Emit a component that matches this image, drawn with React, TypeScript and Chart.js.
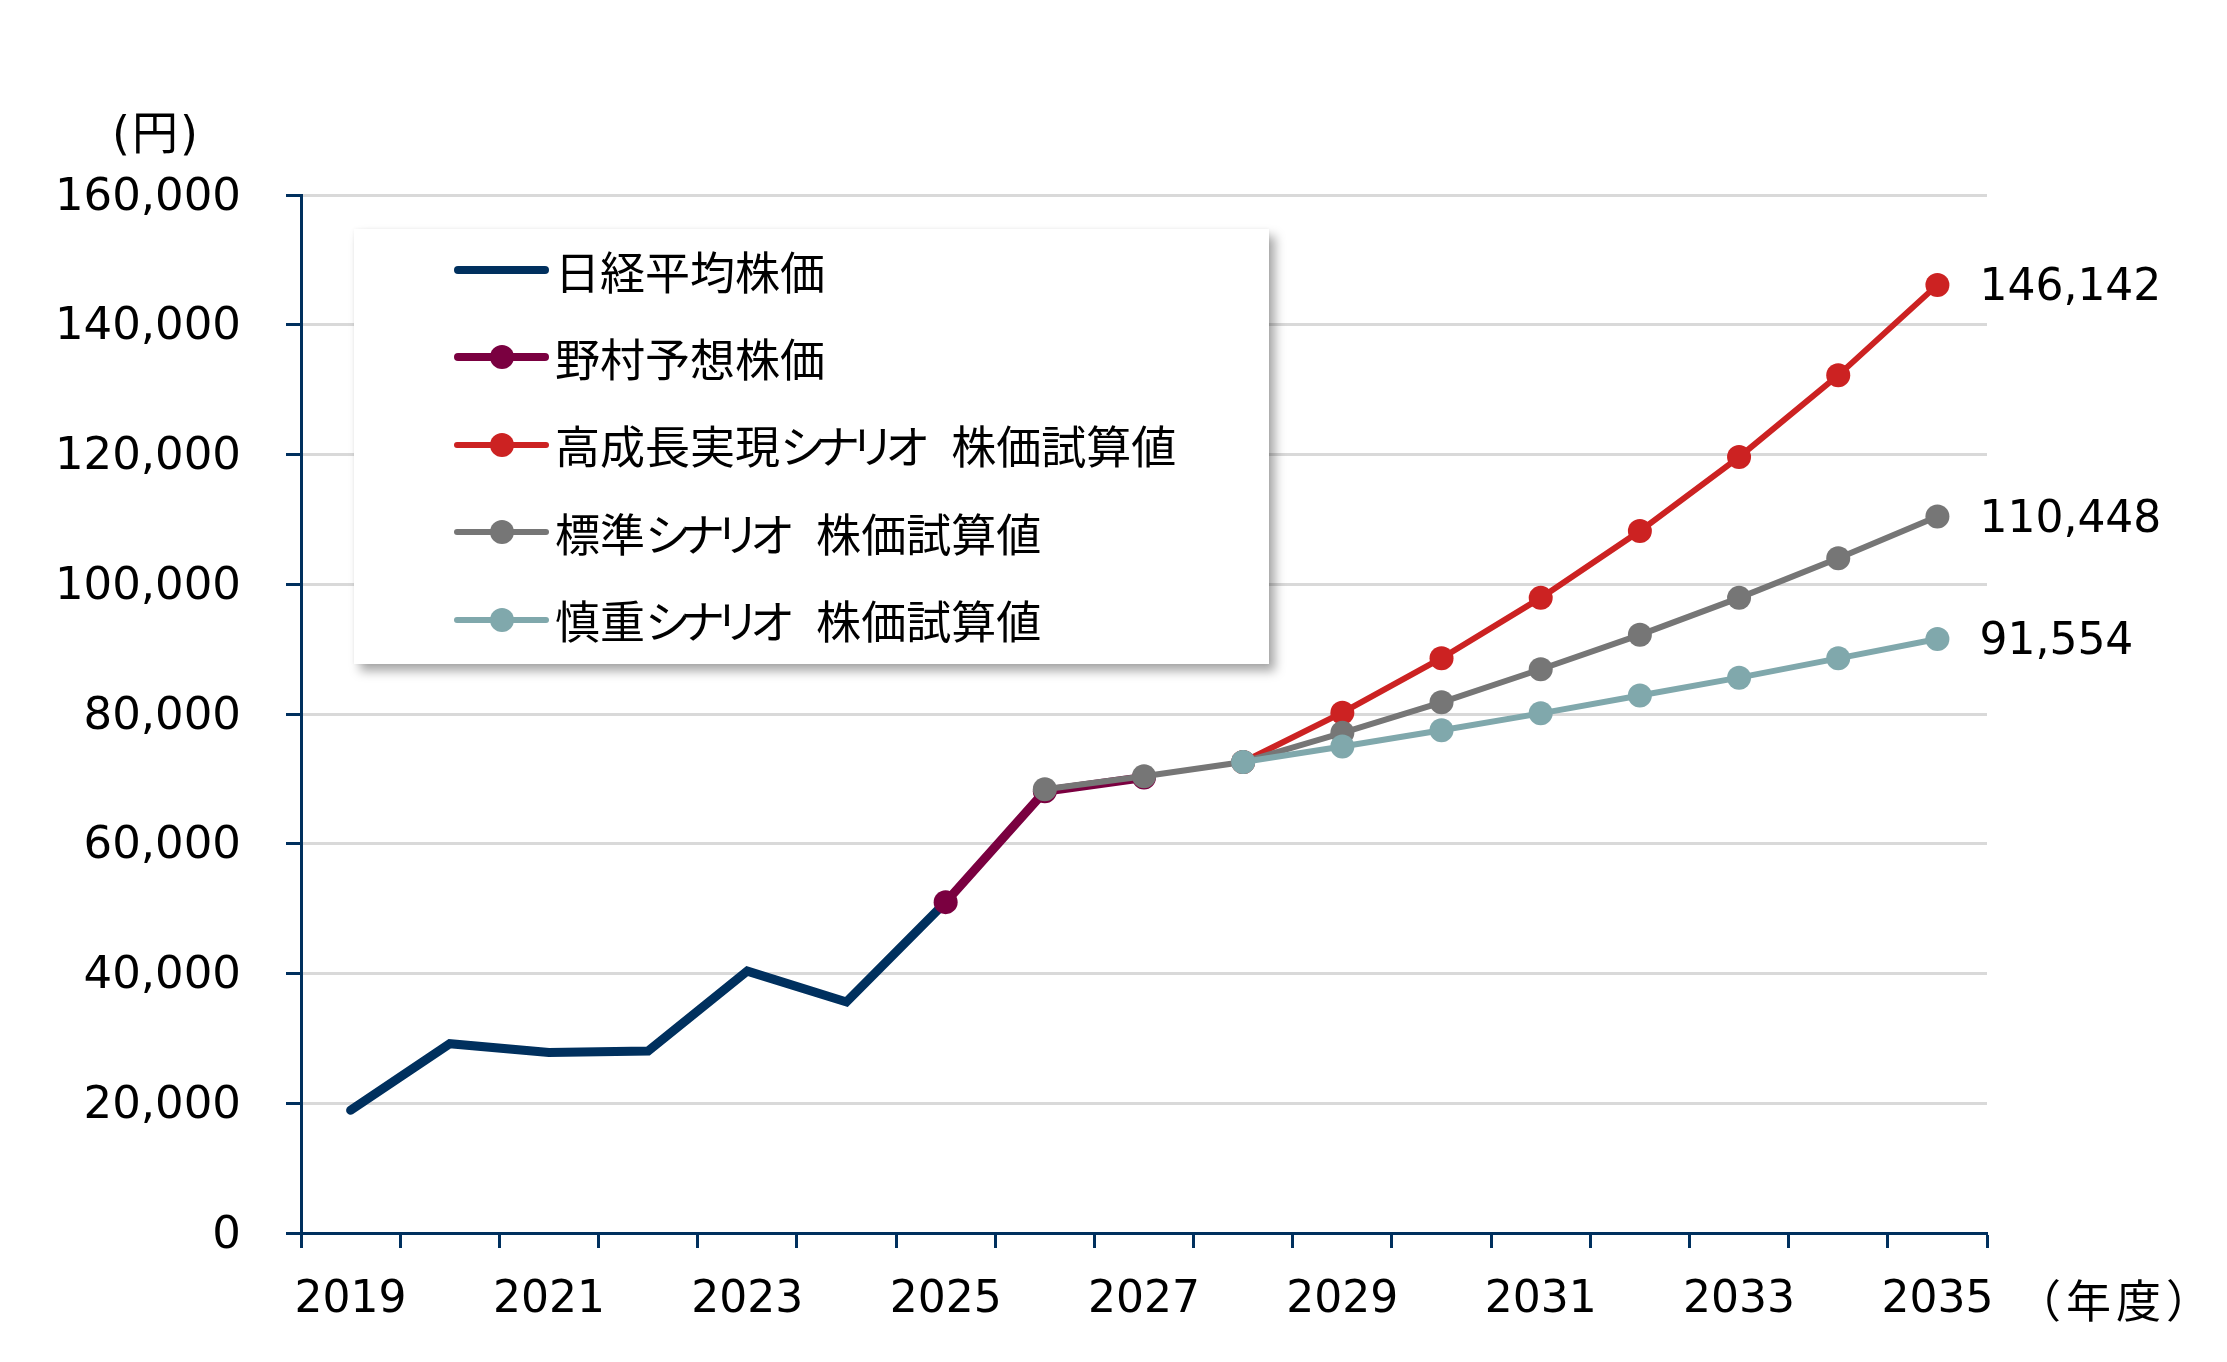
import Chart, { ChartConfiguration, Plugin } from 'chart.js/auto';
import React, { useEffect, useRef } from 'react';

const years = [
  '2019', '2020', '2021', '2022', '2023', '2024', '2025', '2026', '2027',
  '2028', '2029', '2030', '2031', '2032', '2033', '2034', '2035',
];

// 日経平均株価 (actual)
const nikkeiValues = [
  18917, 29179, 27821, 28041, 40369, 35617, 51000,
  null, null, null, null, null, null, null, null, null, null,
];

// 野村予想株価
const nomuraValues = [
  null, null, null, null, null, null, 51000, 68100, 70200,
  null, null, null, null, null, null, null, null,
];

// 高成長実現シナリオ
const highValues = [
  null, null, null, null, null, null, null, null, null,
  72600, 80200, 88600, 97900, 108200, 119600, 132200, 146142,
];

// 標準シナリオ
const baseValues = [
  null, null, null, null, null, null, null, 68400, 70400,
  72600, 77100, 81800, 86900, 92200, 97900, 104000, 110448,
];

// 慎重シナリオ
const cautiousValues = [
  null, null, null, null, null, null, null, null, null,
  72600, 75000, 77500, 80100, 82850, 85600, 88580, 91554,
];

const yTicks = [0, 20000, 40000, 60000, 80000, 100000, 120000, 140000, 160000];

const NAVY = '#00305e';
const MAROON = '#7a0040';
const RED = '#cc2222';
const GREY = '#767676';
const TEAL = '#80a8ac';

const LATIN = "'DejaVu Sans', 'Noto Sans CJK JP', sans-serif";
const CJK = "'Noto Sans CJK JP', 'DejaVu Sans', sans-serif";

const legendItems = [
  { label: '日経平均株価', color: NAVY, marker: false, width: 8 },
  { label: '野村予想株価', color: MAROON, marker: true, width: 8 },
  { label: '高成長実現シナリオ　株価試算値', color: RED, marker: true, width: 6 },
  { label: '標準シナリオ　株価試算値', color: GREY, marker: true, width: 6 },
  { label: '慎重シナリオ　株価試算値', color: TEAL, marker: true, width: 6 },
];

// katakana and the wide space are set tighter, as in the original
const tightText = (text: string) =>
  text.split('').map((ch, i) => {
    if (ch === '　') return <span key={i} style={{ letterSpacing: -14 }}>{ch}</span>;
    if (/[\u30a0-\u30ff]/.test(ch)) return <span key={i} style={{ letterSpacing: -10 }}>{ch}</span>;
    return ch;
  });

// writes the final value to the right of the last point
const endLabels: Plugin<'line'> = {
  id: 'endLabels',
  afterDatasetsDraw(chart) {
    const ctx = chart.ctx;
    ctx.save();
    ctx.font = `44px ${LATIN}`;
    ctx.fillStyle = '#000';
    ctx.textAlign = 'left';
    ctx.textBaseline = 'middle';
    chart.data.datasets.forEach((ds: any, i) => {
      if (!ds.endLabel) return;
      const data = ds.data as (number | null)[];
      const last = data.length - 1;
      const pt = chart.getDatasetMeta(i).data[last];
      if (!pt || data[last] == null) return;
      ctx.fillText((data[last] as number).toLocaleString('en-US'), pt.x + 42, pt.y + 4);
    });
    ctx.restore();
  },
};

const App: React.FC = () => {
  const chartRef = useRef<HTMLCanvasElement>(null);

  useEffect(() => {
    if (!chartRef.current) return;
    const ctx = chartRef.current.getContext('2d');
    if (!ctx) return;

    const line = (label: string, data: (number | null)[], color: string, width: number, radius: number, order: number, endLabel = false) => ({
      label,
      data,
      borderColor: color,
      backgroundColor: color,
      borderWidth: width,
      pointRadius: radius,
      pointHoverRadius: radius,
      pointBorderWidth: 0,
      pointBackgroundColor: color,
      tension: 0,
      spanGaps: false,
      borderCapStyle: 'round' as const,
      order,
      endLabel,
    });

    const config: ChartConfiguration<'line'> = {
      type: 'line',
      data: {
        labels: years,
        datasets: [
          line(legendItems[0].label, nikkeiValues, NAVY, 9, 0, 5),
          line(legendItems[1].label, nomuraValues, MAROON, 9, 12, 4),
          line(legendItems[2].label, highValues, RED, 6, 12, 3, true),
          line(legendItems[3].label, baseValues, GREY, 6, 12, 2, true),
          line(legendItems[4].label, cautiousValues, TEAL, 6, 12, 1, true),
        ] as any,
      },
      options: {
        animation: false,
        responsive: true,
        maintainAspectRatio: false,
        layout: { padding: { top: 195, right: 240, bottom: 0, left: 0 } },
        plugins: {
          legend: { display: false },
          tooltip: { enabled: false },
        },
        scales: {
          x: {
            type: 'category',
            offset: true,
            grid: {
              offset: true,
              drawOnChartArea: false,
              drawTicks: true,
              tickLength: 15,
              tickColor: NAVY,
              tickWidth: 3,
            },
            border: { color: NAVY, width: 3 },
            ticks: {
              autoSkip: false,
              maxRotation: 0,
              padding: 26,
              color: '#000',
              font: { family: LATIN, size: 44 },
              callback: (_v, i) => (i % 2 === 0 ? years[i] : ''),
            },
            afterFit: (s) => {
              s.height = 129;
            },
          },
          y: {
            min: yTicks[0],
            max: yTicks[yTicks.length - 1],
            afterBuildTicks: (s) => {
              s.ticks = yTicks.map((v) => ({ value: v }));
            },
            grid: {
              color: '#d9d9d9',
              lineWidth: 3,
              tickColor: NAVY,
              tickLength: 15,
              tickWidth: 3,
            },
            border: { color: NAVY, width: 3 },
            ticks: {
              padding: 45,
              labelOffset: 3,
              color: '#000',
              font: { family: LATIN, size: 45 },
              callback: (v) => Number(v).toLocaleString('en-US'),
            },
            afterFit: (s) => {
              s.width = 301;
            },
          },
        },
      },
      plugins: [endLabels],
    };

    const chart = new Chart(ctx, config);
    return () => {
      chart.destroy();
    };
  }, []);

  return (
    <div style={{ position: 'fixed', left: 0, top: 0, width: 2227, height: 1362, background: '#fff' }}>
      <canvas ref={chartRef} />
      <div style={{ position: 'absolute', left: 112, top: 133, transform: 'translateY(-50%)', font: `46px ${LATIN}`, lineHeight: 1, color: '#000', letterSpacing: 2 }}>
        (円)
      </div>
      <div style={{ position: 'absolute', left: 2016, top: 1298, transform: 'translateY(-50%)', font: `45px ${CJK}`, lineHeight: 1, color: '#000', letterSpacing: 5 }}>
        （年度）
      </div>
      <div
        style={{
          position: 'absolute',
          left: 354,
          top: 229,
          width: 915,
          height: 435,
          background: '#fff',
          boxShadow: '6px 7px 10px rgba(0,0,0,0.35), 0 0 4px rgba(0,0,0,0.06)',
        }}
      >
        {legendItems.map((item, i) => (
          <div
            key={item.label}
            style={{ position: 'absolute', left: 100, top: 41 + i * 87.4, height: 0, display: 'flex', alignItems: 'center' }}
          >
            <div style={{ position: 'relative', width: 95, height: 24, flex: 'none' }}>
              <div
                style={{
                  position: 'absolute',
                  left: 0,
                  right: 0,
                  top: 12 - item.width / 2,
                  height: item.width,
                  borderRadius: item.width / 2,
                  background: item.color,
                }}
              />
              {item.marker && (
                <div style={{ position: 'absolute', left: 36, top: 0, width: 24, height: 24, borderRadius: 12, background: item.color }} />
              )}
            </div>
            <span style={{ marginLeft: 6, font: `45px ${CJK}`, lineHeight: 1, color: '#000', whiteSpace: 'pre' }}>
              {tightText(item.label)}
            </span>
          </div>
        ))}
      </div>
    </div>
  );
};

export default App;
